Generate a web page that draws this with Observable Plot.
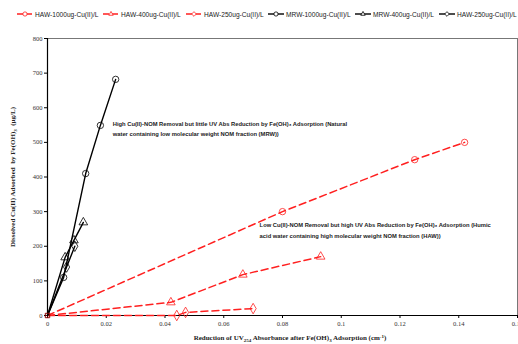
<!DOCTYPE html>
<html><head><meta charset="utf-8">
<script src="https://cdn.jsdelivr.net/npm/d3@7"></script>
<script src="https://cdn.jsdelivr.net/npm/@observablehq/plot@0.6"></script>
<style>
body{margin:0;background:#fff;width:518px;height:344px;overflow:hidden}
#legend{position:relative;height:30px;font:6.6px "Liberation Sans",Arial,sans-serif;color:#222}
.li{position:absolute;top:10px;display:flex;align-items:center;white-space:nowrap}
.li svg{margin-right:2px}
</style></head><body>
<div id="legend"></div>
<div id="chart"></div>
<script>
// ---- data ----
const seriesNames = ["HAW-1000ug-Cu(II)/L","HAW-400ug-Cu(II)/L","HAW-250ug-Cu(II)/L","MRW-1000ug-Cu(II)/L","MRW-400ug-Cu(II)/L","HAW-250ug-Cu(II)/L"];
const haw1000X = [0, 0.080, 0.125, 0.142];
const haw1000Y = [0, 300, 450, 500];
const haw400X = [0, 0.042, 0.0665, 0.093];
const haw400Y = [0, 38, 118, 170];
const haw250X = [0, 0.044, 0.047, 0.070];
const haw250Y = [0, 0, 9, 20];
const mrw1000X = [0, 0.0055, 0.013, 0.018, 0.0232];
const mrw1000Y = [0, 110, 410, 549, 682];
const mrw400X = [0, 0.006, 0.009, 0.0122];
const mrw400Y = [0, 168, 217, 269];
const mrw250X = [0, 0.0065, 0.0093];
const mrw250Y = [0, 140, 200];
const xTicks = [0, 0.02, 0.04, 0.06, 0.08, 0.1, 0.12, 0.14, 0.16];
const yTicks = [0, 100, 200, 300, 400, 500, 600, 700, 800];
const annotations = [
  {x: 0.0222, y: 568, text: "High Cu(II)-NOM Removal but little UV Abs Reduction by Fe(OH)\u2083 Adsorption (Natural\nwater containing low molecular weight NOM fraction (MRW))"},
  {x: 0.0722, y: 275, text: "Low Cu(II)-NOM Removal but high UV Abs Reduction by Fe(OH)\u2083 Adsorption (Humic\nacid water containing high molecular weight NOM fraction (HAW))"}
];

const styles = [
  {color:"#ff2020", dash:"7,4", symbol:"circle"},
  {color:"#ff2020", dash:"7,4", symbol:"triangle"},
  {color:"#ff2020", dash:"7,4", symbol:"diamond"},
  {color:"#000", dash:null, symbol:"circle"},
  {color:"#000", dash:null, symbol:"triangle"},
  {color:"#000", dash:null, symbol:"diamond"}
];
const xs = [haw1000X, haw400X, haw250X, mrw1000X, mrw400X, mrw250X];
const ys = [haw1000Y, haw400Y, haw250Y, mrw1000Y, mrw400Y, mrw250Y];
const series = xs.map((X, i) => X.map((x, j) => ({x, y: ys[i][j]})));

const marks = [
  Plot.frame({stroke:"#777", strokeWidth:1}),
  Plot.ruleX([0], {stroke:"#000", strokeWidth:1.2}),
  Plot.ruleY([0], {stroke:"#000", strokeWidth:1.2}),
  Plot.axisX({ticks: xTicks, tickSize: 3, tickFormat: d => String(+d.toFixed(2)), label: null,
    fontFamily:"Liberation Serif", fontSize: 6.5, fill:"#333", tickPadding: 3}),
  Plot.axisY({ticks: yTicks, tickSize: 3, tickFormat: d => String(d), label: null,
    fontFamily:"Liberation Serif", fontSize: 6.5, fill:"#333", tickPadding: 2})
];
series.forEach((data, i) => {
  const s = styles[i];
  marks.push(Plot.line(data, {x:"x", y:"y", stroke: s.color, strokeWidth: s.dash ? 1.5 : 1.4, strokeDasharray: s.dash}));
});
series.forEach((data, i) => {
  const s = styles[i];
  marks.push(Plot.dot(data.slice(1), {x:"x", y:"y", symbol: () => s.symbol, stroke: s.color, fill:"none", r: 3.2, strokeWidth: 0.8}));
});
marks.push(Plot.dot([{x:0,y:0}], {x:"x", y:"y", symbol:"square", stroke:"#800", fill:"none", r:2.5, strokeWidth:1}));
marks.push(Plot.text(annotations, {x:"x", y:"y", text:"text", textAnchor:"start", lineAnchor:"top",
  fontSize: 5.8, fontWeight:"bold", fontFamily:"Liberation Sans", fill:"#222", lineHeight: 1.75}));

const plot = Plot.plot({
  width: 518, height: 314,
  marginLeft: 47, marginRight: 1, marginTop: 8, marginBottom: 29,
  x: {domain: [0, 0.16]},
  y: {domain: [0, 800]},
  symbol: {type: "identity"},
  style: {background:"#fff", overflow:"visible"},
  marks
});
document.getElementById("chart").appendChild(plot);

// axis titles with sub/superscripts
const svg = d3.select(plot);
const yl = svg.append("text").attr("transform","translate(15,147) rotate(-90)")
  .attr("text-anchor","middle").attr("font-family","Liberation Serif").attr("font-weight","bold")
  .attr("font-size",7).attr("fill","#222");
yl.append("tspan").text("Dissolved Cu(II) Adsorbed  by Fe(OH)");
yl.append("tspan").attr("font-size",5).attr("dy",1.5).text("3");
yl.append("tspan").attr("dy",-1.5).text("  (\u00b5g/L)");
const xl = svg.append("text").attr("x",290).attr("y",310)
  .attr("text-anchor","middle").attr("font-family","Liberation Serif").attr("font-weight","bold")
  .attr("font-size",7).attr("fill","#222");
xl.append("tspan").text("Reduction of UV");
xl.append("tspan").attr("font-size",5).attr("dy",1.5).text("254");
xl.append("tspan").attr("dy",-1.5).text(" Absorbance after Fe(OH)");
xl.append("tspan").attr("font-size",5).attr("dy",1.5).text("3");
xl.append("tspan").attr("dy",-1.5).text(" Adsorption (cm");
xl.append("tspan").attr("font-size",5).attr("dy",-2.5).text("-1");
xl.append("tspan").attr("dy",2.5).text(")");

// legend
const legendX = [17, 103, 186, 268, 355, 439];
const leg = document.getElementById("legend");
seriesNames.forEach((name, i) => {
  const s = styles[i];
  const div = document.createElement("div");
  div.className = "li"; div.style.left = legendX[i] + "px";
  const sym = d3.create("svg").attr("width",16).attr("height",8);
  sym.append("line").attr("x1",0).attr("x2",16).attr("y1",4).attr("y2",4)
    .attr("stroke", s.color).attr("stroke-width",1.4).attr("stroke-dasharray", s.dash ? "6,3" : null);
  sym.append("path").attr("transform","translate(8,4)")
    .attr("d", d3.symbol(s.symbol === "circle" ? d3.symbolCircle : s.symbol === "triangle" ? d3.symbolTriangle2 : d3.symbolDiamond2, 14)())
    .attr("fill","#fff").attr("stroke", s.color).attr("stroke-width",0.8);
  div.appendChild(sym.node());
  const t = document.createElement("span"); t.textContent = name;
  div.appendChild(t);
  leg.appendChild(div);
});
</script>
</body></html>
